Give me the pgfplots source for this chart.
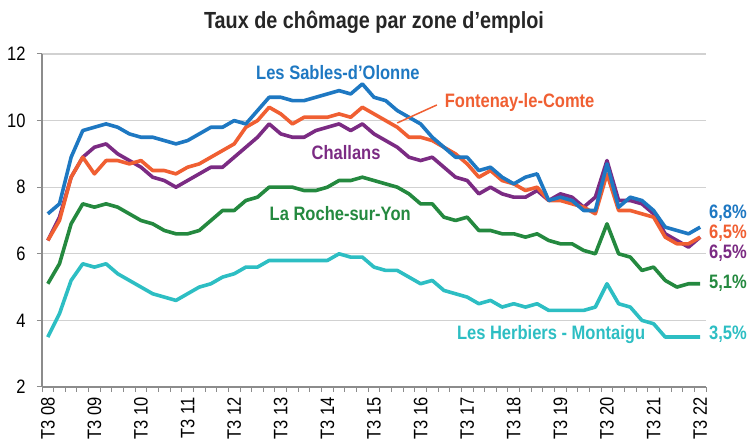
\documentclass[border=0pt]{standalone}
\usepackage{fontspec}
\setmainfont{Liberation Sans}[FakeStretch=0.85]
\usepackage{pgfplots}
\usepackage{pgfplotstable}
\pgfplotsset{compat=1.18}
\definecolor{cblue}{HTML}{1E78C2}
\definecolor{corange}{HTML}{F05F32}
\definecolor{cpurple}{HTML}{7B2B83}
\definecolor{cgreen}{HTML}{24893F}
\definecolor{ccyan}{HTML}{2DBEC3}
\pgfplotstableread{
i sables fontenay challans roche herbiers
0 7.2 6.4 6.4 5.1 3.5
1 7.5 7.0 7.1 5.7 4.2
2 8.9 8.3 8.3 6.9 5.2
3 9.7 8.9 8.9 7.5 5.7
4 9.8 8.4 9.2 7.4 5.6
5 9.9 8.8 9.3 7.5 5.7
6 9.8 8.8 9.0 7.4 5.4
7 9.6 8.7 8.8 7.2 5.2
8 9.5 8.8 8.6 7.0 5.0
9 9.5 8.5 8.3 6.9 4.8
10 9.4 8.5 8.2 6.7 4.7
11 9.3 8.4 8.0 6.6 4.6
12 9.4 8.6 8.2 6.6 4.8
13 9.6 8.7 8.4 6.7 5.0
14 9.8 8.9 8.6 7.0 5.1
15 9.8 9.1 8.6 7.3 5.3
16 10.0 9.3 8.9 7.3 5.4
17 9.9 9.8 9.2 7.6 5.6
18 10.3 10.0 9.5 7.7 5.6
19 10.7 10.4 9.9 8.0 5.8
20 10.7 10.2 9.6 8.0 5.8
21 10.6 9.9 9.5 8.0 5.8
22 10.6 10.1 9.5 7.9 5.8
23 10.7 10.1 9.7 7.9 5.8
24 10.8 10.1 9.8 8.0 5.8
25 10.9 10.2 9.9 8.2 6.0
26 10.8 10.1 9.7 8.2 5.9
27 11.1 10.4 9.9 8.3 5.9
28 10.7 10.2 9.6 8.2 5.6
29 10.6 10.0 9.4 8.1 5.5
30 10.3 9.8 9.2 8.0 5.5
31 10.1 9.5 8.9 7.8 5.3
32 9.9 9.5 8.8 7.5 5.1
33 9.5 9.4 8.9 7.5 5.2
34 9.2 9.2 8.6 7.1 4.9
35 8.9 9.0 8.3 7.0 4.8
36 8.9 8.7 8.2 7.1 4.7
37 8.5 8.3 7.8 6.7 4.5
38 8.6 8.5 8.0 6.7 4.6
39 8.3 8.2 7.8 6.6 4.4
40 8.1 8.1 7.7 6.6 4.5
41 8.3 7.9 7.7 6.5 4.4
42 8.4 8.0 7.9 6.6 4.5
43 7.6 7.6 7.6 6.4 4.3
44 7.7 7.6 7.8 6.3 4.3
45 7.6 7.5 7.7 6.3 4.3
46 7.3 7.4 7.4 6.1 4.3
47 7.3 7.2 7.7 6.0 4.4
48 8.7 8.4 8.8 6.9 5.1
49 7.4 7.3 7.6 6.0 4.5
50 7.7 7.3 7.6 5.9 4.4
51 7.6 7.2 7.5 5.5 4.0
52 7.3 7.1 7.2 5.6 3.9
53 6.8 6.5 6.6 5.2 3.5
54 6.7 6.3 6.4 5.0 3.5
55 6.6 6.3 6.2 5.1 3.5
56 6.8 6.5 6.5 5.1 3.5
}\data
\begin{document}
\begin{tikzpicture}[x=1bp,y=1bp]
\useasboundingbox (0,0) rectangle (749,444);
\begin{axis}[
  at={(42bp,57bp)}, anchor=south west,
  scale only axis, width=664bp, height=333bp,
  xmin=-0.5, xmax=56.5, ymin=2, ymax=12,
  axis x line*=bottom, axis y line*=left,
  axis line style={color=black!45, line width=1.2bp},
  ytick={2,4,...,12},
  ymajorgrids, grid style={color=black!18, line width=1.2bp},
  xtick={-0.5,0.5,...,56.5}, xticklabels={},
  extra x ticks={0,4,...,56},
  extra x tick labels={T3 08,T3 09,T3 10,T3 11,T3 12,T3 13,T3 14,T3 15,T3 16,T3 17,T3 18,T3 19,T3 20,T3 21,T3 22},
  extra x tick style={major tick length=0pt, xticklabel style={rotate=90, anchor=east, inner sep=0bp, xshift=-10bp}},
  tick align=outside, major tick length=5bp,
  tick style={color=black!45, line width=1bp},
  ticklabel style={font=\fontsize{19.5}{19.5}\selectfont},
  yticklabel style={xshift=-8bp},
  /pgf/number format/assume math mode=true,
  clip=false,
  every axis plot/.append style={line width=3.6bp, line join=round, no markers}
]
\addplot[ccyan] table[x=i, y=herbiers] {\data};
\addplot[cgreen] table[x=i, y=roche] {\data};
\addplot[cpurple] table[x=i, y=challans] {\data};
\addplot[corange] table[x=i, y=fontenay] {\data};
\addplot[cblue] table[x=i, y=sables] {\data};
\node[anchor=base, font=\bfseries\fontsize{23.4}{23.4}\selectfont, text=black!85] at (rel axis cs:0.5,1) [yshift=25bp] {Taux de chômage par zone d’emploi};
\begin{scope}[every node/.style={font=\bfseries\fontsize{19.5}{19.5}\selectfont}]
\node[text=cblue] at (axis cs:24.9,11.43) {Les Sables-d\char"27 Olonne};
\node[text=corange] at (axis cs:40.5,10.53) {Fontenay-le-Comte};
\draw[corange, line width=1.5bp] (axis cs:30.0,9.93) -- (axis cs:33.4,10.47);
\node[text=cpurple] at (axis cs:25.6,9.03) {Challans};
\node[text=cgreen] at (axis cs:25.1,7.2) {La Roche-sur-Yon};
\node[text=ccyan] at (axis cs:43.2,3.57) {Les Herbiers - Montaigu};
\node[text=cblue, anchor=west, inner sep=0pt] at (axis cs:56.75,7.23) {6,8\%};
\node[text=corange, anchor=west, inner sep=0pt] at (axis cs:56.75,6.63) {6,5\%};
\node[text=cpurple, anchor=west, inner sep=0pt] at (axis cs:56.75,6.03) {6,5\%};
\node[text=cgreen, anchor=west, inner sep=0pt] at (axis cs:56.75,5.13) {5,1\%};
\node[text=ccyan, anchor=west, inner sep=0pt] at (axis cs:56.75,3.57) {3,5\%};
\end{scope}
\end{axis}
\end{tikzpicture}
\end{document}
